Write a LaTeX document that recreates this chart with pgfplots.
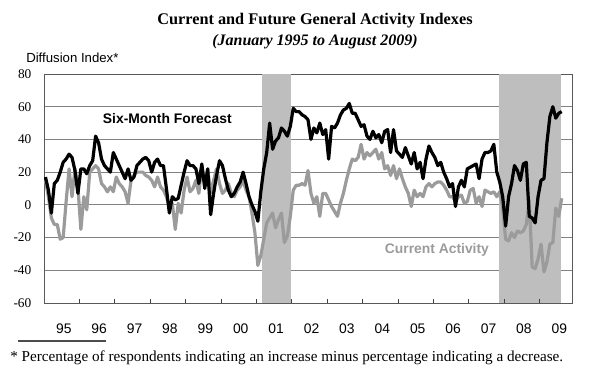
\documentclass[border=0pt]{standalone}
\usepackage{fontspec}
\setsansfont{Liberation Sans}
\newfontfamily\serifr{Liberation Serif}
\usepackage{pgfplots}
\usepackage{pgfplotstable}
\pgfplotsset{compat=1.18}
\definecolor{shade}{RGB}{190,190,190}
\definecolor{curgray}{RGB}{155,155,155}
\definecolor{gridgray}{RGB}{130,130,130}

\pgfplotstableread{
m F C
0 17 15
1 9 5
2 -5 -8
3 13 -12
4 15 -12
5 20 -21
6 26 -20
7 28 2
8 31 22
9 29 5
10 21 22
11 7 11
12 22 -15
13 22 5
14 19 -3
15 24 20
16 27 22
17 42 24
18 38 22
19 28 13
20 24 11
21 22 8
22 20 11
23 32 8
24 28 17
25 24 13
26 20 11
27 16 8
28 22 1
29 15 15
30 17 18
31 24 20
32 26 20
33 28 20
34 29 18
35 27 17
36 20 15
37 26 11
38 28 17
39 24 11
40 24 9
41 10 5
42 -5 -1
43 5 1
44 3 -15
45 4 1
46 12 -5
47 20 9
48 27 17
49 24 8
50 24 10
51 22 15
52 13 7
53 25 24
54 10 13
55 22 22
56 -6 7
57 7 15
58 18 22
59 27 13
60 24 7
61 16 9
62 9 13
63 5 7
64 7 5
65 11 9
66 14 11
67 20 15
68 13 9
69 5 5
70 0 -5
71 -4 -17
72 -10 -37
73 8 -31
74 22 -21
75 32 -11
76 50 -8
77 34 -5
78 39 -14
79 41 -9
80 47 -5
81 45 -23
82 42 -19
83 48 -7
84 59 9
85 57 12
86 57 12
87 55 13
88 54 12
89 52 21
90 40 7
91 47 1
92 44 5
93 50 -7
94 43 7
95 46 7
96 28 3
97 48 -1
98 47 -4
99 50 -7
100 55 1
101 58 7
102 59 15
103 62 22
104 56 28
105 56 27
106 52 29
107 48 37
108 49 28
109 42 32
110 40 30
111 45 32
112 41 34
113 43 28
114 38 32
115 45 22
116 46 24
117 32 18
118 46 24
119 33 16
120 31 22
121 29 16
122 35 11
123 30 7
124 25 -1
125 32 9
126 22 5
127 26 7
128 16 5
129 28 11
130 36 13
131 32 11
132 29 13
133 24 14
134 26 14
135 20 12
136 16 9
137 11 5
138 13 5
139 -1 2
140 11 5
141 15 6
142 11 1
143 22 2
144 23 9
145 24 10
146 25 1
147 16 5
148 28 -1
149 32 9
150 32 8
151 33 7
152 37 8
153 20 5
154 14 8
155 5 -2
156 -13 -21
157 5 -22
158 13 -17
159 24 -20
160 21 -16
161 15 -17
162 25 -16
163 26 -12
164 -7 3
165 -8 -38
166 -11 -39
167 5 -33
168 15 -24
169 16 -41
170 38 -35
171 54 -24
172 60 -23
173 53 -2
174 56 -7
175 57 4
}\data

\begin{document}
\begin{tikzpicture}
\begin{axis}[
  at={(0pt,0pt)}, anchor=south west,
  width=396pt, height=171.75pt, scale only axis,
  set layers,
  xmin=0, xmax=179, ymin=-60, ymax=80,
  xtick={12,24,...,168}, xticklabels={},
  xtick pos=bottom, tick align=inside, major tick length=3pt,
  ytick={-60,-40,...,80},
  yticklabels={-60,-40,-20,0,20,40,60,80},
  ytick style={draw=none},
  xtick style={draw=black!75, line width=0.6pt, /pgfplots/on layer=axis foreground},
  extra x ticks={6.7,18.7,...,174.7},
  extra x tick labels={95,96,97,98,99,00,01,02,03,04,05,06,07,08,09},
  extra x tick style={major tick length=0pt, grid=none},
  ymajorgrids, grid style={gridgray, line width=0.6pt},
  axis line style={black!65, line width=0.7pt, /pgfplots/on layer=axis foreground},
  yticklabel style={font=\serifr\fontsize{10}{12}\selectfont, anchor=east, inner sep=0pt, xshift=-9.3pt},
  xticklabel style={font=\sffamily\fontsize{10.4}{12}\selectfont, anchor=base, inner sep=0pt, yshift=-22.7pt},
]
\addplot[fill=shade, draw=none] coordinates {(74,-60) (74,80) (83.8,80) (83.8,-60)} -- cycle;
\addplot[fill=shade, draw=none] coordinates {(154.3,-60) (154.3,80) (175.2,80) (175.2,-60)} -- cycle;
\addplot[curgray, line width=2.4pt, line join=round] table[x expr=\thisrow{m}+0.5, y=C] {\data};
\addplot[black, line width=2.4pt, line join=round] table[x expr=\thisrow{m}+0.5, y=F] {\data};
\node[font=\sffamily\bfseries\fontsize{10.4}{12}\selectfont] at (axis cs:41.8,52.6) {Six-Month Forecast};
\node[font=\sffamily\bfseries\fontsize{10.4}{12}\selectfont, text=curgray] at (axis cs:133.2,-27.8) {Current Activity};
\end{axis}
\node[anchor=base, font=\serifr\bfseries\fontsize{12.2}{14}\selectfont] at (203.25pt,209.25pt) {Current and Future General Activity Indexes};
\node[anchor=base, font=\serifr\bfseries\itshape\fontsize{12}{14}\selectfont] at (203.25pt,193.5pt) {(January 1995 to August 2009)};
\node[anchor=base west, inner sep=0pt, font=\sffamily\fontsize{9.9}{12}\selectfont] at (-13.5pt,180.5pt) {Diffusion Index*};
\fill[black!70] (-19.3pt,-29pt) rectangle (46.5pt,-27.6pt);
\node[anchor=base west, inner sep=0pt, font=\serifr\fontsize{11.4}{13}\selectfont] at (-25.5pt,-44pt) {* Percentage of respondents indicating an increase minus percentage indicating a decrease.};
\path (-33pt,-57.75pt) rectangle (417pt,227.25pt);
\end{tikzpicture}
\end{document}
